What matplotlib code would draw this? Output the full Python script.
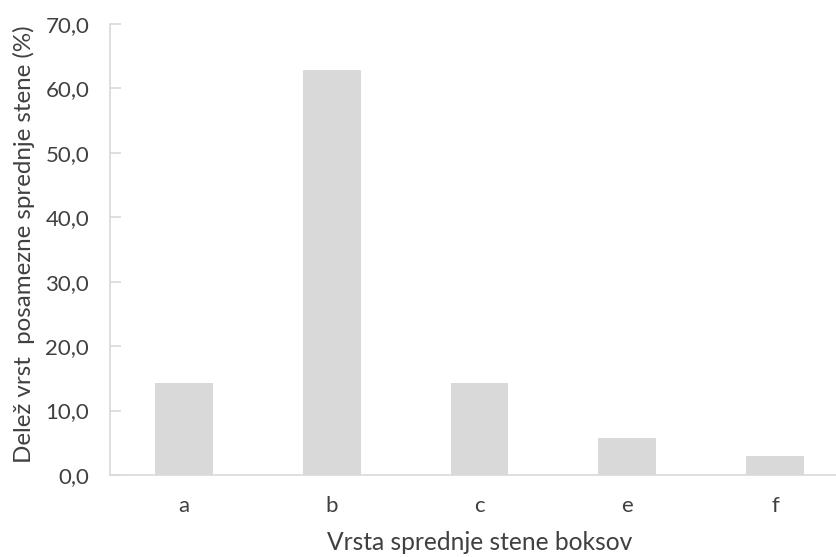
import matplotlib
matplotlib.use("Agg")
import matplotlib.pyplot as plt
from matplotlib.ticker import FuncFormatter

categories = ["a", "b", "c", "e", "f"]
shares = [14.3, 62.9, 14.3, 5.7, 2.9]
y_ticks = [0, 10, 20, 30, 40, 50, 60, 70]

plt.rcParams["font.family"] = ["Lato", "DejaVu Sans"]
text_color = "#404040"
grey = "#D9D9D9"

fig = plt.figure(figsize=(8.37, 5.57), dpi=100)
ax = fig.add_axes([110 / 837, 1 - 475 / 557, 739 / 837, (475 - 24) / 557])

x = range(len(categories))
ax.bar(x, shares, width=0.39, color=grey, zorder=2)

ax.set_xlim(-0.5, len(categories) - 0.5)
ax.set_ylim(0, 70)
ax.set_yticks(y_ticks)
ax.yaxis.set_major_formatter(FuncFormatter(lambda v, _: f"{v:.1f}".replace(".", ",")))
ax.set_xticks(list(x))
ax.set_xticklabels(categories)

for side in ("top", "right"):
    ax.spines[side].set_visible(False)
for side in ("left", "bottom"):
    ax.spines[side].set_color(grey)
    ax.spines[side].set_linewidth(1.2)

ax.tick_params(axis="y", direction="in", length=8, width=1.2, color=grey,
               labelsize=16, labelcolor=text_color, pad=15)
ax.tick_params(axis="x", length=0, labelsize=16, labelcolor=text_color, pad=15)

fig.text(480 / 837, 1 - 543 / 557, "Vrsta sprednje stene boksov", ha="center", va="center",
         fontsize=17.7, color=text_color)
fig.text(24 / 837, 1 - 244 / 557, "Delež vrst  posamezne sprednje stene (%)", ha="center",
         va="center", rotation=90, fontsize=17.4, color=text_color)

fig.savefig("out.png", dpi=100)
